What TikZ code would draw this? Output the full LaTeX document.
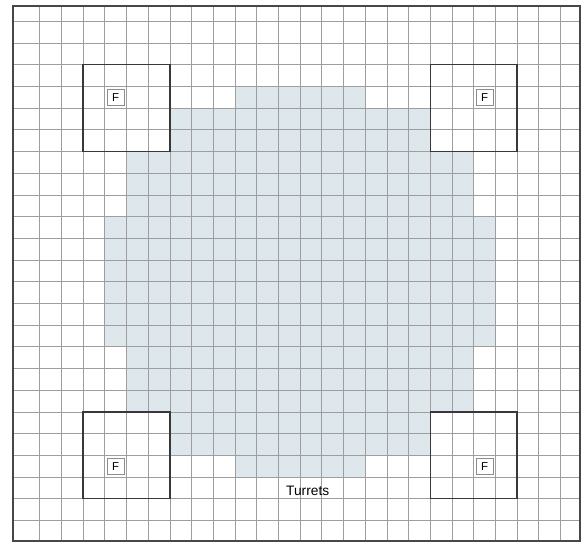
\documentclass[tikz,border=0pt]{standalone}
\usepackage{fontspec}
\setsansfont{Liberation Sans}
\usepackage{xcolor}
\usepackage{tikz}
\usetikzlibrary{%
  positioning,
  calc,
  backgrounds}
\definecolor{zonefill}{RGB}{222,232,236}
\tikzset{
  %% Paper grid
  gridline/.style={draw=black!38, line width=0.55pt},
  %% Outer frame of the sheet
  frameline/.style={draw=black!72, line width=1.1pt},
  %% Central shaded area
  zone/.style={fill=zonefill, draw=none},
  %% Turret squares
  turretbox/.style={draw=black!78, line width=1.1pt},
  %% Small F markers
  fbox/.style={
    rectangle, draw=black!45, fill=white, line width=0.5pt,
    minimum width=0.46cm, minimum height=0.43cm,
    inner sep=0pt, font=\fontsize{9}{9}\selectfont\sffamily},
  %% Caption text
  caption/.style={font=\fontsize{10.8}{12}\selectfont\sffamily, inner sep=0pt},
}
\begin{document}
\begin{tikzpicture}[x=0.6cm, y=-0.6cm]

  \useasboundingbox (-1.83,-0.98) rectangle (25.22,24.09);

  %% Shaded zone
  \fill[zone] (9,3) -- (15,3) -- (15,4) -- (18,4) -- (18,6) -- (20,6)
    -- (20,9) -- (21,9) -- (21,15) -- (20,15) -- (20,18) -- (18,18)
    -- (18,20) -- (15,20) -- (15,21) -- (9,21) -- (9,20) -- (6,20)
    -- (6,18) -- (4,18) -- (4,15) -- (3,15) -- (3,9) -- (4,9)
    -- (4,6) -- (6,6) -- (6,4) -- (9,4) -- cycle;

  %% Grid and frame
  \draw[gridline, xstep=0.6cm, ystep=20cm] (-0.9,-0.705) grid (24.9,23.95);
  \draw[gridline, xstep=20cm, ystep=0.6cm] (-1.235,-0.705) grid (24.9,23.95);
  \draw[frameline] (-1.235,-0.705) rectangle (24.9,23.95);

  %% Turrets
  \draw[turretbox] (2,2)   rectangle (6,6);
  \draw[turretbox] (18,2)  rectangle (22,6);
  \draw[turretbox] (2,18)  rectangle (6,22);
  \draw[turretbox] (18,18) rectangle (22,22);

  %% F markers
  \node[fbox] (ftl) at (3.5,3.5)   {F};
  \node[fbox] (ftr) at (20.5,3.5)  {F};
  \node[fbox] (fbl) at (3.5,20.5)  {F};
  \node[fbox] (fbr) at (20.5,20.5) {F};

  %% Label
  \node[caption] (turrets) at (12.35,21.65) {Turrets};

\end{tikzpicture}
\end{document}
